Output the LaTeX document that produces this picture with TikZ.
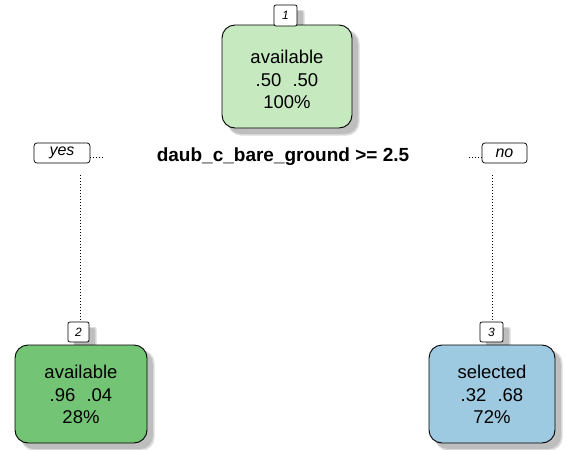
\documentclass[tikz,border=0pt]{standalone}
\usepackage{fontspec}
\setmainfont{Liberation Sans}
\definecolor{rootfill}{RGB}{199,233,192}
\definecolor{leftfill}{RGB}{116,196,118}
\definecolor{rightfill}{RGB}{158,202,225}
\definecolor{shadowgray}{RGB}{190,190,190}
\tikzset{
  treebox/.style={draw=black, line width=0.9pt, rounded corners=13pt, inner sep=0pt},
  boxtext/.style={align=center, inner sep=0pt, font=\fontsize{18.5}{22.5}\selectfont},
  numbox/.style={draw=black, fill=white, line width=0.7pt, rounded corners=2pt, inner sep=0pt,
    font=\fontsize{12}{14}\selectfont\itshape},
  dirbox/.style={draw=black, fill=white, line width=0.7pt, rounded corners=3pt, inner sep=0pt,
    font=\fontsize{16}{18}\selectfont\itshape},
  branch/.style={line width=0.8pt, dash pattern=on 0.8pt off 2.2pt},
  splittext/.style={font=\fontsize{19}{22}\selectfont\bfseries, inner sep=0pt}
}
\newcommand{\shadowbox}[5]{% x y w h r
  \fill[shadowgray!55, rounded corners=#5] (#1-#3/2+6, #2-#4/2-7.5) rectangle (#1+#3/2+7.5, #2+#4/2-5);
  \fill[shadowgray, rounded corners=#5] (#1-#3/2+6, #2-#4/2-6) rectangle (#1+#3/2+6, #2+#4/2-6);
}
\begin{document}
\begin{tikzpicture}[x=1pt,y=1pt]
\useasboundingbox[fill=white] (0,0) rectangle (566,-450);
% shadows
\shadowbox{287}{-76.5}{130}{103}{13pt}
\shadowbox{81}{-394}{132}{98}{13pt}
\shadowbox{492}{-394}{126}{98}{13pt}
\shadowbox{285.5}{-15.5}{23}{21}{2pt}
\shadowbox{78.5}{-332}{21}{20}{2pt}
\shadowbox{491.5}{-332}{23}{20}{2pt}
% main nodes
\node[treebox, fill=rootfill, minimum width=130pt, minimum height=103pt] (n1) at (287,-76.5) {};
\node[boxtext] (t1) at ([yshift=-3pt]n1.center) {available\\.50\hspace{0.6em}.50\\100\%};
\node[treebox, fill=leftfill, minimum width=132pt, minimum height=98pt] (n2) at (81,-394) {};
\node[boxtext] (t2) at ([yshift=-0.5pt]n2.center) {available\\.96\hspace{0.6em}.04\\28\%};
\node[treebox, fill=rightfill, minimum width=126pt, minimum height=98pt] (n3) at (492,-394) {};
\node[boxtext] (t3) at ([yshift=-0.5pt]n3.center) {selected\\.32\hspace{0.6em}.68\\72\%};
% number labels
\node[numbox, minimum width=23pt, minimum height=21pt] (l1) at (285.5,-15.5) {1};
\node[numbox, minimum width=21pt, minimum height=20pt] (l2) at (78.5,-332) {2};
\node[numbox, minimum width=23pt, minimum height=20pt] (l3) at (491.5,-332) {3};
% yes / no
\node[dirbox, minimum width=56pt, minimum height=20pt] (yes) at (62,-153) {yes};
\node[dirbox, minimum width=45pt, minimum height=20pt] (no) at (504.5,-153) {no};
% split
\node[splittext] (split) at (283,-157) {daub\_c\_bare\_ground >= 2.5};
% branches
\coordinate (yend) at (103,-157);
\coordinate (nend) at (469,-157);
\coordinate (ytop) at (80.5,-175);
\coordinate (ntop) at (492,-175);
\draw[branch] (yes.east |- yend) -- (yend);
\draw[branch] (nend) -- (no.west |- nend);
\draw[branch] (ytop) -- (ytop |- l2.north);
\draw[branch] (ntop) -- (ntop |- l3.north);
\end{tikzpicture}
\end{document}
